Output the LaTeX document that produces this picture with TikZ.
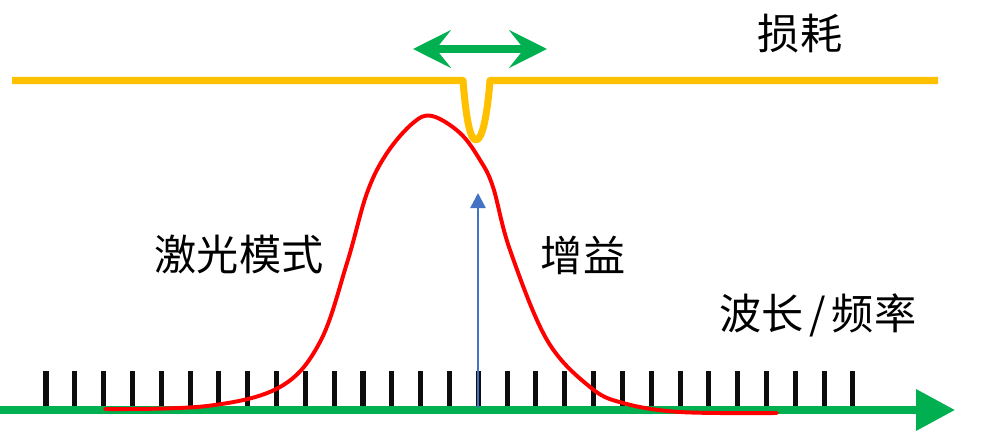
\documentclass[tikz,border=0pt]{standalone}
\usepackage{fontspec}
\newfontfamily\cjk{Noto Sans CJK SC}
\usetikzlibrary{arrows.meta}
\definecolor{lossyellow}{HTML}{FFC000}
\definecolor{axisgreen}{HTML}{00B050}
\definecolor{gainblue}{HTML}{4472C4}
\definecolor{tickblack}{HTML}{0D0D0D}
\tikzset{
  bigtext/.style={font=\cjk\fontsize{30}{36}\selectfont},
  modetick/.style={line width=3.6pt, tickblack},
}
\begin{document}
\begin{tikzpicture}[x=0.025cm, y=-0.025cm]
 \useasboundingbox (0,0) rectangle (981,431);
 % longitudinal modes
 \foreach \i in {0,...,28}
   \draw[modetick] ({46+28.82*\i},371) -- ++(0,36);
 \draw[axisgreen, line width=5pt, -{Triangle[length=27.7pt, width=28.4pt]}] (0,410) -- (955,410);
 % gain curve
 \draw[red, line width=2.8pt, line cap=round] plot[smooth, tension=0.6] coordinates {
   (105,409) (207,406) (280,387) (320,342) (347,263) (367,193) (387,153)
   (413,123) (432,116) (460,133) (480,160) (493,187) (510,250) (547,340)
   (590,387) (623,403) (680,412) (777,413)};
 \draw[gainblue, line width=1.8pt, -{Triangle[length=10.7pt, width=10.7pt]}] (478,408) -- (478,193);
 % loss line with dip
 \draw[lossyellow, line width=5pt, line join=round]
   (12,80.5) -- (463,80.5) .. controls (466,118) and (470,140) .. (476,140)
   .. controls (482,140) and (487,118) .. (490,80.5) -- (938,80.5);
 \draw[axisgreen, line width=5.7pt, {Stealth[length=27pt, width=27pt, inset=10.7pt]}-{Stealth[length=27pt, width=27pt, inset=10.7pt]}] (413,49) -- (547,49);
 \node[bigtext] (loss) at (800,34) {损耗};
 \node[bigtext] (mode) at (239,254) {激光模式};
 \node[bigtext] (gain) at (583,255) {增益};
 \node[bigtext] (freq) at (818,315) {波长\hspace{4pt}/\hspace{4pt}频率};
\end{tikzpicture}
\end{document}
